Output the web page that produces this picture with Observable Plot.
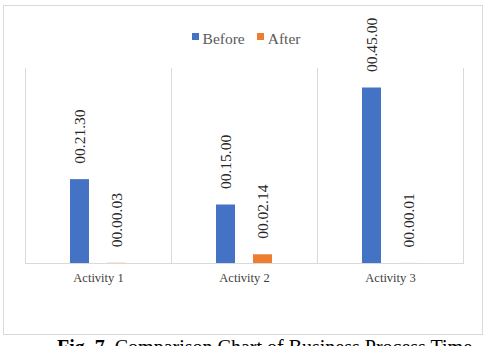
<!DOCTYPE html>
<html>
<head>
<meta charset="utf-8">
<script src="https://cdn.jsdelivr.net/npm/d3@7"></script>
<script src="https://cdn.jsdelivr.net/npm/@observablehq/plot@0.6"></script>
<style>
  html, body { margin: 0; padding: 0; background: #fff; }
  body { width: 490px; height: 346px; overflow: hidden; position: relative; font-family: "Liberation Serif", "Times New Roman", serif; }
  #box { position: absolute; left: 3px; top: 5px; width: 478px; height: 328px; border: 1.5px solid #d9d9d9; pointer-events: none; }
  #chart { position: absolute; left: 0; top: 0; }
  #legend { position: absolute; top: 28px; left: 0; width: 492px; text-align: center; font-size: 15.5px; color: #595959; white-space: nowrap; }
  #legend span.item { display: inline-flex; align-items: center; margin: 0 6px; }
  #legend span.sw { display: inline-block; width: 7px; height: 7px; margin-right: 4px; position: relative; top: -2px; }
  #caption { position: absolute; left: 57px; top: 336px; font-size: 20px; color: #000; white-space: nowrap; line-height: 22px; }
</style>
</head>
<body>
<div id="chart"></div>
<div id="box"></div>
<div id="legend"></div>
<div id="caption"><b>Fig. 7.</b> Comparison Chart of Business Process Time</div>
<script>
const categories = ["Activity 1", "Activity 2", "Activity 3"];
const seriesNames = ["Before", "After"];
const seriesColors = ["#4472C4", "#ED7D31"];
// durations in minutes
const beforeValues = [21.5, 15, 45];
const afterValues = [0.05, 2.2333, 0.0167];
const beforeLabels = ["00.21.30", "00.15.00", "00.45.00"];
const afterLabels = ["00.00.03", "00.02.14", "00.00.01"];

const data = [];
categories.forEach((c, i) => {
  data.push({category: c, series: "Before", value: beforeValues[i], label: beforeLabels[i]});
  data.push({category: c, series: "After", value: afterValues[i], label: afterLabels[i]});
});

const chart = Plot.plot({
  width: 490,
  height: 335,
  marginLeft: 25,
  marginRight: 27,
  marginTop: 68,
  marginBottom: 72,
  style: {fontFamily: "Liberation Serif, Times New Roman, serif", background: "transparent"},
  fx: {domain: categories, padding: 0, label: null, axis: "bottom", tickSize: 0, tickPadding: 10},
  x: {domain: seriesNames, paddingInner: 0.48, paddingOuter: 1.187, axis: null},
  y: {domain: [0, 50], axis: null},
  color: {domain: seriesNames, range: seriesColors},
  marks: [
    Plot.frame({anchor: "left", stroke: "#d9d9d9", strokeOpacity: 1}),
    Plot.frame({anchor: "right", stroke: "#d9d9d9", strokeOpacity: 1}),
    Plot.barY(data, {fx: "category", x: "series", y: "value", fill: "series"}),
    Plot.ruleY([0], {stroke: "#d9d9d9", strokeWidth: 1.2}),
    Plot.text(data, {
      fx: "category", x: "series", y: "value", text: "label",
      rotate: -90, textAnchor: "start", lineAnchor: "middle",
      dy: -16, fontSize: 15.5, fill: "#262626"
    })
  ]
});
chart.querySelectorAll('g[aria-label="fx-axis tick label"]').forEach(el => {
  el.setAttribute("font-size", "12.5");
  el.setAttribute("fill", "#404040");
});
document.getElementById("chart").appendChild(chart);

const legend = document.getElementById("legend");
seriesNames.forEach((s, i) => {
  const item = document.createElement("span");
  item.className = "item";
  const sw = document.createElement("span");
  sw.className = "sw";
  sw.style.background = seriesColors[i];
  item.appendChild(sw);
  item.appendChild(document.createTextNode(s));
  legend.appendChild(item);
});
</script>
</body>
</html>
